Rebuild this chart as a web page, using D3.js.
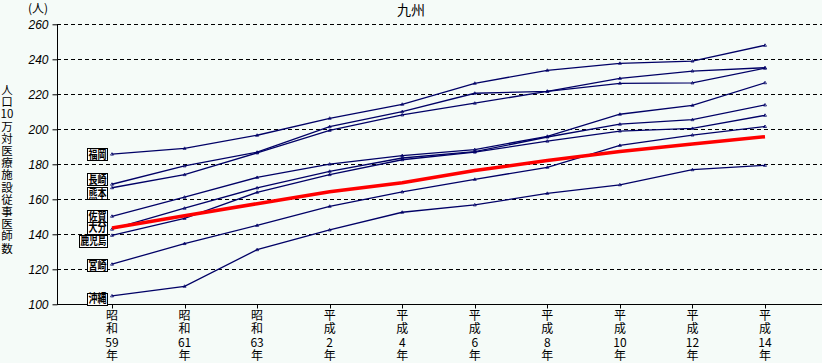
<!DOCTYPE html>
<html>
<head>
<meta charset="utf-8">
<script src="https://cdn.jsdelivr.net/npm/d3@7"></script>
<style>
  body { margin: 0; background: #f5fbf8; }
  svg { display: block; font-family: "Noto Sans CJK JP", sans-serif; }
</style>
</head>
<body>
<svg id="chart" width="822" height="363"></svg>
<script>
// categories (年)
var years = ["昭和59年", "昭和61年", "昭和63年", "平成2年", "平成4年", "平成6年", "平成8年", "平成10年", "平成12年", "平成14年"];
var yearLabels = [["昭", "和", "59", "年"], ["昭", "和", "61", "年"], ["昭", "和", "63", "年"], ["平", "成", "2", "年"], ["平", "成", "4", "年"],
                  ["平", "成", "6", "年"], ["平", "成", "8", "年"], ["平", "成", "10", "年"], ["平", "成", "12", "年"], ["平", "成", "14", "年"]];
var yTicks = [100, 120, 140, 160, 180, 200, 220, 240, 260];

// 人口10万対医療施設従事医師数
var fukuoka   = [185.8, 189.1, 196.6, 206.3, 214.3, 226.3, 233.7, 237.7, 239.0, 248.0];
var nagasaki  = [168.6, 179.1, 186.9, 201.5, 210.1, 220.6, 221.7, 229.1, 233.3, 235.2];
var kumamoto  = [166.6, 174.1, 186.5, 199.4, 208.2, 214.9, 221.7, 226.3, 226.5, 234.9];
var saga      = [150.3, 161.2, 172.5, 180.1, 185.0, 188.4, 196.0, 208.6, 213.7, 226.6];
var oita      = [142.9, 154.9, 166.5, 176.0, 183.6, 187.2, 195.6, 202.9, 205.5, 213.9];
var kagoshima = [139.4, 149.1, 164.0, 174.1, 182.6, 187.0, 193.2, 199.0, 200.5, 208.0];
var miyazaki  = [122.9, 134.7, 145.1, 156.0, 164.2, 171.4, 178.3, 190.8, 196.7, 201.6];
var okinawa   = [104.8, 110.3, 131.2, 142.5, 152.6, 156.8, 163.4, 168.3, 176.9, 179.4];
var zenkoku   = [143.6, 150.6, 157.5, 164.3, 169.4, 176.4, 182.2, 187.3, 191.6, 195.8];

var series = [
    {name: "福岡", values: fukuoka},
    {name: "長崎", values: nagasaki},
    {name: "熊本", values: kumamoto},
    {name: "佐賀", values: saga},
    {name: "大分", values: oita},
    {name: "鹿児島", values: kagoshima},
    {name: "宮崎", values: miyazaki},
    {name: "沖縄", values: okinawa}
];

function drawChart() {
    var svg = d3.select("#chart");
    var pLeft = 57, pRight = 822, pTop = 24.3, pBottom = 304.3;

    var x = d3.scalePoint().domain(years).range([112, 765]);
    var y = d3.scaleLinear().domain([100, 260]).range([pBottom, pTop]);

    // background
    svg.append("rect").attr("width", 822).attr("height", 363).attr("fill", "#f5fbf8");

    // grid
    svg.append("g").selectAll("line")
        .data(yTicks.slice(1))
        .enter().append("line")
        .attr("x1", pLeft).attr("x2", pRight)
        .attr("y1", function(d) { return Math.round(y(d)) + 0.5; })
        .attr("y2", function(d) { return Math.round(y(d)) + 0.5; })
        .attr("stroke", "#000").attr("stroke-width", 1)
        .attr("stroke-dasharray", "4,3");

    // y axis
    var yAxis = d3.axisLeft(y).tickValues(yTicks).tickSize(5).tickPadding(4);
    var gy = svg.append("g").attr("transform", "translate(" + (pLeft + 0.5) + ",0)").call(yAxis);
    gy.select(".domain").remove();
    gy.append("line").attr("x1", 0).attr("x2", 0).attr("y1", pTop).attr("y2", pBottom).attr("stroke", "#000");
    gy.selectAll("text").attr("font-size", 12).attr("font-style", "italic").attr("fill", "#000")
        .attr("font-family", "'Liberation Sans', sans-serif");

    // x axis
    var gx = svg.append("g").attr("transform", "translate(0," + (Math.round(pBottom) + 0.5) + ")");
    gx.append("line").attr("x1", pLeft).attr("x2", pRight).attr("stroke", "#000");
    gx.selectAll("line.tick")
        .data(years)
        .enter().append("line")
        .attr("class", "tick")
        .attr("x1", function(d) { return Math.round(x(d)) + 0.5; })
        .attr("x2", function(d) { return Math.round(x(d)) + 0.5; })
        .attr("y1", 0).attr("y2", 4)
        .attr("stroke", "#000");
    years.forEach(function(d, i) {
        var t = gx.append("text")
            .attr("text-anchor", "middle")
            .attr("font-size", 12);
        yearLabels[i].forEach(function(c, j) {
            t.append("tspan").attr("x", x(d)).attr("y", 15 + j * 13.5).text(c);
        });
    });

    // lines
    var line = d3.line()
        .x(function(d, i) { return x(years[i]); })
        .y(function(d) { return y(d); });

    svg.append("g").selectAll("path")
        .data(series)
        .enter().append("path")
        .attr("d", function(d) { return line(d.values); })
        .attr("fill", "none")
        .attr("stroke", "#000066")
        .attr("stroke-width", 1.3);

    // small markers
    series.forEach(function(s) {
        svg.append("g").selectAll("path")
            .data(s.values)
            .enter().append("path")
            .attr("d", function(d, i) {
                var px = x(years[i]), py = y(d);
                return "M" + (px - 1.5) + "," + (py + 1) + "L" + px + "," + (py - 1.5) + "L" + (px + 1.5) + "," + (py + 1) + "Z";
            })
            .attr("fill", "none")
            .attr("stroke", "#000066")
            .attr("stroke-width", 0.8);
    });

    // 全国
    svg.append("path")
        .attr("d", line(zenkoku))
        .attr("fill", "none")
        .attr("stroke", "#ff0000")
        .attr("stroke-width", 3.5);

    // series labels at left, nudged apart like the original
    var nudge = {"福岡": 0, "長崎": -5, "熊本": 5.5, "佐賀": 0, "大分": -1.5, "鹿児島": 5.5, "宮崎": 1, "沖縄": 3};
    series.forEach(function(s) {
        var cy = y(s.values[0]) + nudge[s.name];
        var w = s.name.length === 3 ? 28 : 20;
        var g = svg.append("g");
        g.append("rect")
            .attr("x", 107.5 - w).attr("y", Math.round(cy - 6) + 0.5)
            .attr("width", w).attr("height", 12)
            .attr("fill", "#fff").attr("stroke", "#000").attr("stroke-width", 1);
        g.append("text")
            .attr("x", 107.5 - w / 2).attr("y", cy + 4.5)
            .attr("text-anchor", "middle")
            .attr("font-size", 12).attr("font-weight", "bold")
            .attr("textLength", w - 2).attr("lengthAdjust", "spacingAndGlyphs")
            .text(s.name);
    });

    // titles
    svg.append("text").attr("x", 411).attr("y", 15).attr("text-anchor", "middle")
        .attr("font-size", 14).text("九州");
    svg.append("text").attr("x", 38).attr("y", 13).attr("text-anchor", "middle")
        .attr("font-size", 12).text("(人)");

    var yTitle = ["人", "口", "10", "万", "対", "医", "療", "施", "設", "従", "事", "医", "師", "数"];
    var yt = svg.append("text").attr("text-anchor", "middle").attr("font-size", 11.5);
    yTitle.forEach(function(c, i) {
        yt.append("tspan").attr("x", 7).attr("y", 94 + i * 12.2).text(c);
    });
}

drawChart();
</script>
</body>
</html>
